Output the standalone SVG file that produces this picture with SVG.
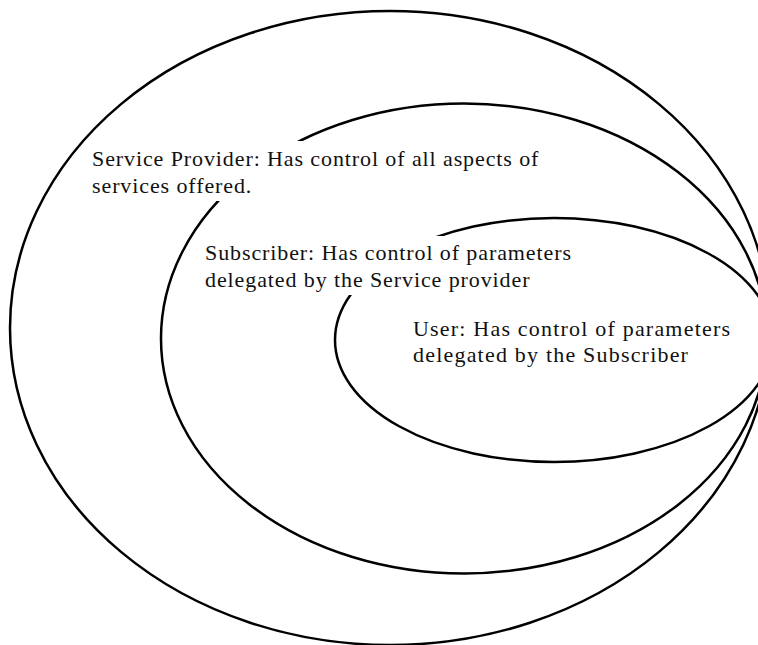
<svg xmlns="http://www.w3.org/2000/svg" width="758" height="645" viewBox="0 0 758 645">
<style>
.ring{fill:none;stroke:#000;stroke-width:2.5}
.box{fill:#fff;stroke:none}
.lbl{font-family:"Liberation Serif","Times New Roman",serif;font-size:22px;letter-spacing:0.9px;fill:#111}
</style>
<rect width="758" height="645" fill="#fff"/>
<g id="connectors"></g>
<g id="service-provider">
<ellipse class="ring" cx="390" cy="328" rx="380" ry="317"/>
</g>
<g id="subscriber">
<ellipse class="ring" cx="464" cy="338.5" rx="303" ry="235"/>
</g>
<g id="user">
<ellipse class="ring" cx="554" cy="340" rx="219" ry="122"/>
</g>
<g id="service-provider-label">
<rect class="box" x="90" y="141" width="465" height="60"/>
<text class="lbl" x="92" y="166">Service Provider: Has control of all aspects of</text>
<text class="lbl" x="92" y="193">services offered.</text>
</g>
<g id="subscriber-label">
<rect class="box" x="200" y="236" width="375" height="59"/>
<text class="lbl" x="205" y="260">Subscriber: Has control of parameters</text>
<text class="lbl" x="205" y="287">delegated by the Service provider</text>
</g>
<g id="user-label">
<text class="lbl" x="413" y="336" style="letter-spacing:1.2px">User: Has control of parameters</text>
<text class="lbl" x="413" y="362" style="letter-spacing:1.2px">delegated by the Subscriber</text>
</g>
</svg>
